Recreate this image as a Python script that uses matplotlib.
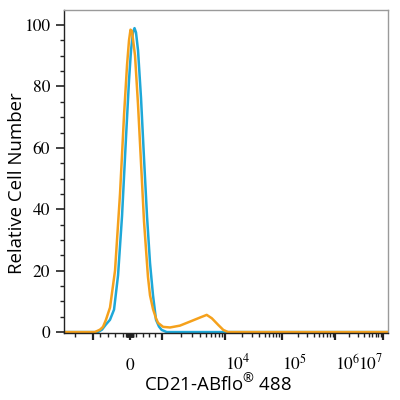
import numpy as np
import matplotlib
matplotlib.use("Agg")
import matplotlib.pyplot as plt

plt.rcParams["mathtext.fontset"] = "custom"
plt.rcParams["mathtext.rm"] = "Open Sans"

# histogram outlines (intensity, relative count)
orange_x = [-6000, -1200, -950, -810, -730, -650, -540, -405, -270, -160, -80, -27, 16, 63,
            160, 255, 350, 445, 570, 635, 730, 825, 890, 1060, 1360, 1950, 2800, 4000,
            5150, 6200, 7850, 9400, 11300, 1.27e7]
orange_y = [0, 0, 0, 0.8, 1.7, 4, 8, 20, 45, 71, 87, 95, 98.5, 98,
            90, 74, 55, 36, 18, 12, 7.5, 4.5, 3, 1.7, 1.5, 2.1, 3.4, 4.7,
            5.6, 4.5, 2.3, 0.7, 0, 0]

blue_x = [-6000, -865, -757, -649, -541, -432, -324, -216, -108, -27, 32, 95, 143, 190,
          254, 349, 444, 540, 635, 730, 825, 920, 1006, 1207, 1.27e7]
blue_y = [0, 0, 0.8, 2.5, 4, 7.3, 18.4, 37.7, 63.4, 82, 91.8, 97.6, 99, 97.6,
          91.8, 76.3, 56.7, 37.7, 22.5, 12, 4, 1.8, 0.7, 0, 0]

y_ticks = [0, 20, 40, 60, 80, 100]
x_major = [-1000, 0, 1000, 1e4, 1e5, 1e6, 1e7]
x_major_labels = ["", "$0$", "", "$10^4$", "$10^5$", "$10^6$", "$10^7$"]

# logicle-like axis: linear around zero, log decades beyond +-1000
T_ANCHOR = [-2, -1, 0, 1, 2, 3, 4, 5, 6]
P_ANCHOR = [56, 93, 130, 161.5, 225, 282, 335, 383, 431]


def to_t(v):
    v = np.asarray(v, dtype=float)
    a = np.abs(v)
    big = np.sign(v) * (1 + np.log10(np.maximum(a, 1000) / 1000))
    return np.where(a <= 1000, v / 1000, big)


def from_t(t):
    t = np.asarray(t, dtype=float)
    a = np.abs(t)
    big = np.sign(t) * 1000 * 10 ** (np.maximum(a, 1) - 1)
    return np.where(a <= 1, t * 1000, big)


def forward(v):
    return np.interp(to_t(v), T_ANCHOR, P_ANCHOR)


def inverse(p):
    return from_t(np.interp(p, P_ANCHOR, T_ANCHOR))


fig = plt.figure(figsize=(4, 4), dpi=100)
ax = fig.add_axes([64 / 400, 1 - 333 / 400, 324 / 400, 323 / 400])
ax.set_xscale("function", functions=(forward, inverse))

ax.plot(blue_x, blue_y, color="#1ea8d8", lw=1.8, solid_joinstyle="round")
ax.plot(orange_x, orange_y, color="#f5a11c", lw=1.8, solid_joinstyle="round")

ax.set_xlim(-6080, 1.27e7)
ax.set_ylim(-0.3, 104.9)

# ticks
ax.set_yticks(y_ticks)
ax.set_yticks(np.arange(0, 101, 5), minor=True)
minor_x = [-3000, -800, -600, -400, -200] + list(range(-100, 0, 10)) + list(range(10, 101, 10)) \
    + [200, 400, 600, 800]
for dec in [1e3, 1e4, 1e5, 1e6]:
    minor_x += [k * dec for k in range(2, 10)]
ax.set_xticks(x_major, x_major_labels)
ax.set_xticks(minor_x, minor=True)

ax.tick_params(axis="y", which="major", direction="out", length=5.5, width=1.2,
               labelsize=12.5, pad=4.5, color="#222222", labelfontfamily="STIXGeneral")
ax.tick_params(axis="y", which="minor", direction="out", length=2.8, width=1.0, color="#222222")
ax.tick_params(axis="x", which="major", direction="out", length=5, width=1.6,
               labelsize=12.5, pad=21.5, color="#222222")
ax.tick_params(axis="x", which="minor", direction="out", length=2.8, width=1.0, color="#222222")

for lbl, val in zip(ax.get_xticklabels(), x_major):
    lbl.set_math_fontfamily("stix")
    lbl.set_va("baseline")
    if val >= 1e4:
        lbl.set_ha("left")
    if val == 1e7:
        lbl.set_ha("right")

for side in ["left", "bottom"]:
    ax.spines[side].set_color("#222222")
    ax.spines[side].set_linewidth(1.0)
for side in ["top", "right"]:
    ax.spines[side].set_color("#9a9a9a")
    ax.spines[side].set_linewidth(1.0)

ax.set_ylabel("Relative Cell Number", fontsize=13.4, fontfamily="Open Sans")
ax.yaxis.set_label_coords(-0.117, 0.463)
ax.set_xlabel("CD21-ABflo$^{\\mathrm{®}}$ 488", fontsize=13.4, fontfamily="Open Sans")
ax.xaxis.set_label_coords(0.475, -0.125)

fig.savefig("out.png", dpi=100)
